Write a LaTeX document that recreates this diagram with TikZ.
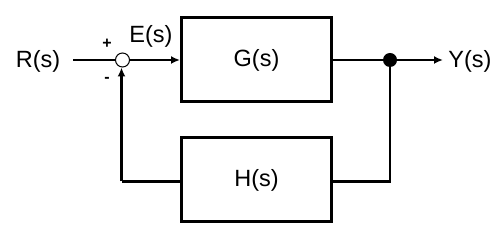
\documentclass[tikz,border=0pt]{standalone}
\usepackage{fontspec}
\setmainfont{Liberation Sans}
\usetikzlibrary{arrows.meta}
\begin{document}
\begin{tikzpicture}[x=1pt,y=-1pt,
  blk/.style={draw,line width=3pt,minimum width=150pt,minimum height=84pt,inner sep=0pt},
  lbl/.style={font=\fontsize{23.5}{26}\selectfont,inner sep=0pt},
  sgn/.style={font=\fontsize{16}{18}\selectfont\bfseries,inner sep=0pt},
  wire/.style={line width=2.2pt},
  arr/.style={wire,-{Latex[length=9pt,width=8pt]}}]
\useasboundingbox (0,0) rectangle (500,237);
\fill[white] (0,0) rectangle (500,237);
\node[blk] (G) at (256.5,60) {};
\node[lbl] at (G.center) {G(s)};
\node[blk] (H) at (256.5,180) {};
\node[lbl] at (H.center) {H(s)};
\node[draw,circle,line width=1pt,minimum size=14pt,inner sep=0pt] (sum) at (122.5,60) {};
\node[circle,fill,minimum size=14pt,inner sep=0pt] (dot) at (390,60) {};
\node[lbl] (R) at (38,61) {R(s)};
\node[lbl] (E) at (151,36) {E(s)};
\node[lbl] (Y) at (470,61) {Y(s)};
\node[sgn] (plus) at (107,44) {+};
\node[sgn] (minus) at (107,80) {-};
\coordinate (rin) at (73,60);
\coordinate (yout) at (443,60);
\coordinate (fr) at (389,181.5);
\coordinate (fl) at (121.5,181.5);
\draw[wire] (rin) -- (sum.west);
\draw[arr] (sum.east) -- (G.west);
\draw[wire] (G.east) -- (dot);
\draw[arr] (dot) -- (yout);
\draw[wire] (dot.center) |- (H.east |- fr);
\draw[wire] (H.west |- fl) -- (fl);
\draw[arr] (fl) -- (sum.south -| fl);
\end{tikzpicture}
\end{document}
